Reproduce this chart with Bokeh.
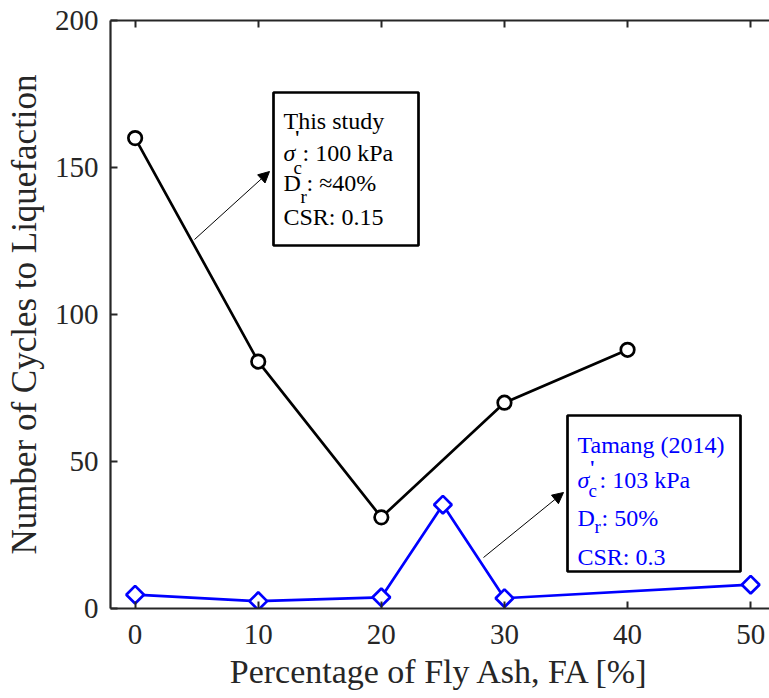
from bokeh.plotting import figure
from bokeh.models import (Label, BoxAnnotation, Arrow, NormalHead, LinearAxis,
                          Range1d, FixedTicker)
from bokeh.embed import file_html
from bokeh.resources import INLINE

# ---------------- data ----------------
fa_this = [0, 10, 20, 30, 40]
cycles_this = [160, 84, 31, 70, 88]
fa_tamang = [0, 10, 20, 25, 30, 50]
cycles_tamang = [4.7, 2.5, 3.8, 35.3, 3.5, 8.1]
x_ticks = [0, 10, 20, 30, 40, 50]
y_ticks = [0, 50, 100, 150, 200]
x_title = "Percentage of Fly Ash, FA [%]"
y_title = "Number of Cycles to Liquefaction"

FONT = "Liberation Serif"
AXC = "#262626"
BLUE = "#0000FF"

# ---------------- layout constants ----------------
W, H = 769, 698
FL, FT, FB, FR = 110, 20, 608, 769
X0, X1 = -2.0, 51.53
Y0, Y1 = 0.0, 200.0


def at(px, py):
    """Convert a canvas pixel position to data coordinates (for annotations)."""
    return (X0 + (px - FL) * (X1 - X0) / (FR - FL),
            Y0 + (FB - py) * (Y1 - Y0) / (FB - FT))


p = figure(width=W, height=H, x_range=Range1d(X0, X1), y_range=Range1d(Y0, Y1),
           output_backend="svg", toolbar_location=None,
           min_border_left=FL, min_border_right=0, min_border_top=FT,
           min_border_bottom=H - FB)
p.outline_line_color = None
p.grid.visible = False
p.background_fill_color = "white"
p.border_fill_color = "white"

p.xaxis.ticker = FixedTicker(ticks=x_ticks)
p.yaxis.ticker = FixedTicker(ticks=y_ticks)
p.xaxis.axis_label = x_title
p.yaxis.axis_label = y_title

for ax in (p.xaxis[0], p.yaxis[0]):
    ax.axis_line_width = 2.2
    ax.axis_line_color = AXC
    ax.major_tick_in = 7
    ax.major_tick_out = 0
    ax.major_tick_line_width = 2
    ax.major_tick_line_color = AXC
    ax.minor_tick_line_color = None
    ax.major_label_text_font = FONT
    ax.major_label_text_font_size = "29px"
    ax.major_label_text_color = AXC
    ax.axis_label_text_font = FONT
    ax.axis_label_text_font_style = "normal"
    ax.axis_label_text_color = AXC

p.xaxis.axis_label_text_font_size = "34px"
p.yaxis.axis_label_text_font_size = "35px"
p.xaxis.major_label_standoff = 16
p.xaxis.axis_label_standoff = 6
p.yaxis.major_label_standoff = 12
p.yaxis.axis_label_standoff = 8

top = LinearAxis(ticker=FixedTicker(ticks=x_ticks), axis_line_width=2.2,
                 axis_line_color=AXC, major_tick_in=7, major_tick_out=0,
                 major_tick_line_width=2, major_tick_line_color=AXC,
                 minor_tick_line_color=None,
                 major_label_overrides={t: "" for t in x_ticks},
                 major_label_standoff=0)
p.add_layout(top, "above")

# ---------------- series ----------------
p.line(fa_this, cycles_this, line_color="black", line_width=2.7)
p.scatter(fa_this, cycles_this, marker="circle", size=13.5, line_color="black",
          line_width=2.7, fill_color="white")
p.line(fa_tamang, cycles_tamang, line_color=BLUE, line_width=2.7)
p.scatter(fa_tamang, cycles_tamang, marker="square", angle=0.785398, size=12.5,
          line_color=BLUE, line_width=2.7, fill_color="white")

# ---------------- arrows ----------------
for (tx0, ty0), (hx, hy) in [((194, 239), (269, 171)), ((483, 557), (563, 492))]:
    xs, ys = at(tx0, ty0)
    xe, ye = at(hx, hy)
    p.add_layout(Arrow(x_start=xs, y_start=ys, x_end=xe, y_end=ye,
                       line_width=1, line_color="black",
                       end=NormalHead(size=11, fill_color="black",
                                      line_color="black", line_width=1)))

# ---------------- text boxes ----------------
for (l, t, r, b) in [(273, 92, 418, 245), (567, 415, 740, 571)]:
    x_l, y_t = at(l, t)
    x_r, y_b = at(r, b)
    p.add_layout(BoxAnnotation(left=x_l, right=x_r, top=y_t, bottom=y_b,
                               fill_color="white", fill_alpha=1.0,
                               line_color="black", line_alpha=1.0,
                               line_width=2.7))

pieces = [
    # box 1 (black)
    ("This study", 283, 120, 24, "normal", "black"),
    ("σ", 283, 152, 24, "italic", "black"),
    ("'", 294, 137, 20, "bold", "black"),
    ("c", 293, 167, 19, "normal", "black"),
    (": 100 kPa", 302, 152, 24, "normal", "black"),
    ("D", 283, 182, 24, "normal", "black"),
    ("r", 300, 196, 19, "normal", "black"),
    (": ≈40%", 306, 182, 24, "normal", "black"),
    ("CSR: 0.15", 283, 216, 24, "normal", "black"),
    # box 2 (blue)
    ("Tamang (2014)", 577, 444, 24, "normal", BLUE),
    ("σ", 577, 479, 24, "italic", BLUE),
    ("'", 589, 467, 20, "bold", BLUE),
    ("c", 588, 490, 19, "normal", BLUE),
    (": 103 kPa", 599, 479, 24, "normal", BLUE),
    ("D", 577, 517, 24, "normal", BLUE),
    ("r", 594, 526, 19, "normal", BLUE),
    (": 50%", 601, 517, 24, "normal", BLUE),
    ("CSR: 0.3", 577, 556, 24, "normal", BLUE),
]
for txt, px, py, fs, style, col in pieces:
    x, y = at(px, py)
    p.add_layout(Label(x=x, y=y, text=txt, text_font=FONT,
                       text_font_size=f"{fs}px", text_font_style=style,
                       text_color=col, text_align="left",
                       text_baseline="alphabetic"))

open("out.html", "w").write(file_html(p, INLINE))
